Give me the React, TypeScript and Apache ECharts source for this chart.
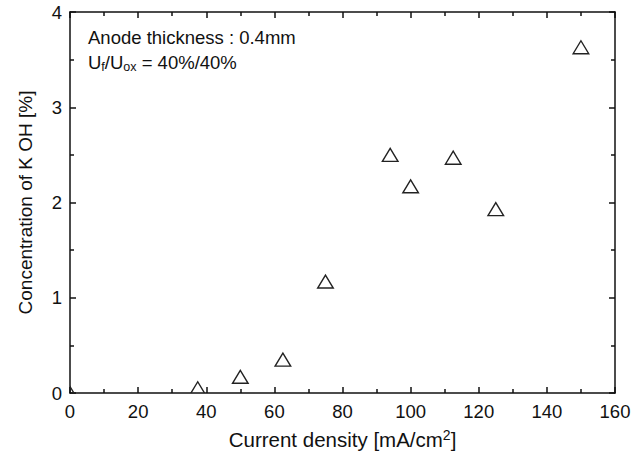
import React, { useEffect, useRef } from "react";
import * as echarts from "echarts";

const currentDensity = [0, 37.5, 50, 62.5, 75, 94, 100, 112.5, 125, 150];
const kohConcentration = [0, 0.05, 0.17, 0.35, 1.17, 2.5, 2.17, 2.47, 1.93, 3.63];
const xTitle = "Current density [mA/cm{sup|2}]";
const yTitle = "Concentration of K OH [%]";
const noteLine1 = "Anode thickness : 0.4mm";
const noteLine2 = "U{sub|f}/U{sub|ox} = 40%/40%";

const FONT = "'Liberation Sans', Arial, Helvetica, sans-serif";

export default function App() {
  const ref = useRef<HTMLDivElement>(null);
  useEffect(() => {
    if (!ref.current) return;
    const chart = echarts.init(ref.current, undefined, { renderer: "svg" });
    const axisLine = { show: true, onZero: false, lineStyle: { color: "#111", width: 1.5 } };
    const majorTick = { show: true, inside: true, length: 6, lineStyle: { color: "#111", width: 1.5 } };
    const minorTick = { show: true, splitNumber: 2, length: 4, lineStyle: { color: "#111", width: 1.5 } };
    const data = currentDensity.map((x, i) => [x, kohConcentration[i]]);
    chart.setOption({
      animation: false,
      backgroundColor: "#fff",
      textStyle: { fontFamily: FONT },
      grid: { left: 70, right: 28, top: 12, bottom: 62, show: false },
      xAxis: [
        {
          type: "value",
          min: 0,
          max: 160,
          interval: 20,
          position: "bottom",
          axisLine,
          axisTick: majorTick,
          minorTick: { ...minorTick },
          splitLine: { show: false },
          axisLabel: { color: "#111", fontSize: 18.5, margin: 9, fontFamily: FONT },
          name: xTitle,
          nameLocation: "middle",
          nameGap: 35,
          nameTextStyle: {
            color: "#111",
            fontSize: 20.5,
            fontFamily: FONT,
            rich: { sup: { fontSize: 14, padding: [0, 0, 9, 0], color: "#111", fontFamily: FONT } },
          },
        },
        {
          type: "value",
          min: 0,
          max: 160,
          interval: 20,
          position: "top",
          axisLine,
          axisTick: majorTick,
          minorTick: { ...minorTick },
          splitLine: { show: false },
          axisLabel: { show: false },
        },
      ],
      yAxis: [
        {
          type: "value",
          min: 0,
          max: 4,
          interval: 1,
          position: "left",
          axisLine,
          axisTick: majorTick,
          minorTick: { ...minorTick },
          splitLine: { show: false },
          axisLabel: { color: "#111", fontSize: 18.5, margin: 8, fontFamily: FONT },
          name: yTitle,
          nameLocation: "middle",
          nameGap: 35,
          nameTextStyle: { color: "#111", fontSize: 19, fontFamily: FONT },
        },
        {
          type: "value",
          min: 0,
          max: 4,
          interval: 1,
          position: "right",
          axisLine,
          axisTick: majorTick,
          minorTick: { ...minorTick },
          splitLine: { show: false },
          axisLabel: { show: false },
        },
      ],
      graphic: [
        {
          type: "text",
          left: 88,
          top: 28,
          style: { text: noteLine1, font: `18.5px ${FONT}`, fill: "#111" },
        },
        {
          type: "text",
          left: 88,
          top: 53,
          style: {
            text: noteLine2,
            fontSize: 18.5,
            fontFamily: FONT,
            fill: "#111",
            rich: {
              sub: { fontSize: 12.5, padding: [8, 0, 0, 0], fontFamily: FONT, fill: "#111" },
            },
          },
        },
      ],
      series: [
        {
          type: "custom",
          clip: true,
          xAxisIndex: 0,
          yAxisIndex: 0,
          data,
          renderItem: (params: any, api: any) => {
            const p = api.coord([api.value(0), api.value(1)]);
            const hw = 7.8;
            const hh = 6.5;
            return {
              type: "polygon",
              shape: {
                points: [
                  [p[0], p[1] - hh],
                  [p[0] - hw, p[1] + hh],
                  [p[0] + hw, p[1] + hh],
                ],
              },
              style: { fill: "none", stroke: "#222", lineWidth: 1.4 },
            };
          },
        },
      ],
    });
    return () => chart.dispose();
  }, []);
  return (
    <div
      ref={ref}
      style={{ position: "fixed", left: 0, top: 0, width: 643, height: 455, background: "#fff" }}
    />
  );
}
